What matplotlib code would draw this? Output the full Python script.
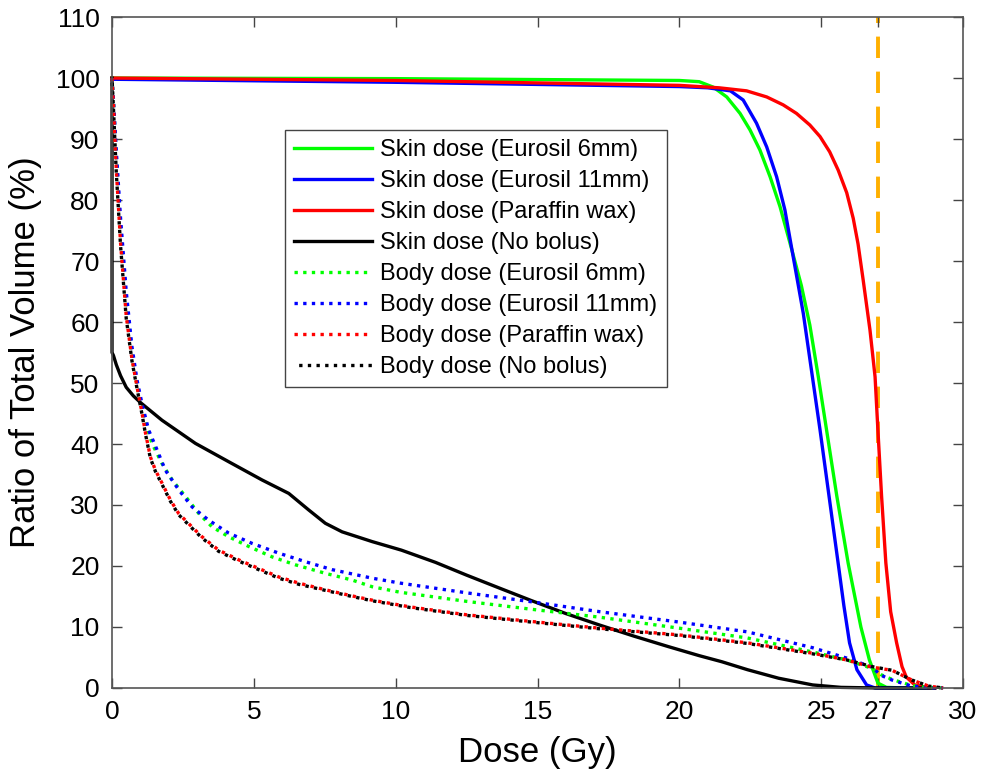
import matplotlib
matplotlib.use('Agg')
import matplotlib.pyplot as plt

plt.rcParams['font.family'] = ['Liberation Sans', 'DejaVu Sans']

# skin dose curves (solid)
skin_x_eu6 = [0, 10, 20, 20.7, 21.2, 21.67, 22.14, 22.49, 22.84, 23.2, 23.55, 23.95, 24.3, 24.6, 24.9,
              25.19, 25.55, 25.95, 26.4, 26.7, 27.0, 27.3, 28, 29]
skin_y_eu6 = [100, 99.9, 99.6, 99.4, 98.5, 96.9, 94.2, 91.5, 88.2, 83.8, 78.9, 72.1, 66, 59.5, 51,
              42.3, 31.5, 20.5, 10, 4.6, 0.8, 0.1, 0, 0]

skin_x_eu11 = [0, 10, 20, 21.0, 21.8, 22.25, 22.72, 23.08, 23.43, 23.72, 23.96, 24.37, 24.96, 25.6,
               25.8, 26.0, 26.26, 26.6, 26.9, 28, 29]
skin_y_eu11 = [99.8, 99.3, 98.6, 98.4, 97.9, 96.4, 92.6, 88.7, 83.8, 78.4, 72.1, 61.4, 42.3, 20.4,
               13.5, 7.4, 3, 0.5, 0, 0, 0]

skin_x_wax = [0, 10, 20, 21.4, 22.37, 23.08, 23.66, 24.13, 24.6, 24.96, 25.3, 25.6, 25.9, 26.13, 26.3,
              26.48, 26.72, 26.9, 27.0, 27.13, 27.28, 27.45, 27.66, 27.85, 28.0, 28.3, 28.7, 29]
skin_y_wax = [100, 99.6, 98.8, 98.4, 97.9, 96.9, 95.6, 94.2, 92.3, 90.4, 87.9, 84.9, 81.2, 77.0, 72.8,
              66.9, 58.7, 51, 42.3, 31.4, 20.5, 12.5, 7.4, 3.5, 1.8, 0.5, 0.1, 0]

skin_x_none = [0, 0, 0.05, 0.15, 0.3, 0.5, 0.75, 1.0, 1.76, 2.94, 4.11, 5.29, 6.23, 6.93, 7.52, 8.11,
               9.17, 10.2, 11.4, 12.5, 13.7, 14.8, 16.0, 17.2, 18.4, 19.6, 20.7, 21.5, 22.4, 23.5,
               24.7, 25.7, 27, 29]
skin_y_none = [100, 55, 54.5, 53, 51.2, 49.3, 47.9, 46.8, 43.9, 40.1, 37.1, 34.1, 31.9, 29.2, 27.0, 25.6,
               24.0, 22.6, 20.6, 18.5, 16.3, 14.3, 12.2, 10.3, 8.5, 6.8, 5.3, 4.3, 3.0, 1.6,
               0.5, 0.1, 0, 0]

# body dose curves (dotted)
body_x_eu6 = [0, 0.05, 0.15, 0.3, 0.5, 0.75, 0.95, 1.15, 1.41, 1.76, 2.12, 2.59, 3.06, 3.53, 4.11, 4.82,
              5.64, 6.46, 7.52, 8.46, 9.17, 10.15, 12.5, 14.8, 17.2, 20.0, 22.4, 24.7, 25.9, 26.8,
              27.1, 27.5, 28.2, 28.8, 29.3]
body_y_eu6 = [100, 96, 87, 75, 62.5, 53, 48, 44, 40.1, 36.8, 34.1, 31.4, 28.6, 26.4, 24.8, 23.2,
              21.5, 20.2, 18.8, 17.7, 16.6, 15.7, 14.2, 12.9, 11.6, 9.8, 8.2, 5.9, 4.6, 3.2,
              2.2, 1.4, 0.4, 0.1, 0]

body_x_eu11 = [0, 0.05, 0.15, 0.3, 0.5, 0.7, 0.88, 1.06, 1.29, 1.59, 1.88, 2.35, 2.82, 3.41, 4.11, 4.94,
               5.88, 6.82, 7.76, 9.17, 10.15, 12.5, 14.84, 17.2, 20.0, 22.4, 24.7, 25.9, 26.8, 27.1,
               27.5, 28.2, 28.8, 29.3]
body_y_eu11 = [100, 96.5, 88, 77, 65, 56, 50.5, 46.5, 42.3, 39.0, 35.7, 32.5, 29.7, 27.5, 25.4, 23.7,
               22.1, 20.7, 19.4, 18.0, 17.2, 15.6, 14.1, 12.5, 10.8, 9.2, 6.6, 4.9, 3.4, 2.1,
               1.3, 0.3, 0.05, 0]

body_x_wax = [0, 0.05, 0.15, 0.3, 0.5, 0.7, 0.88, 1.06, 1.18, 1.35, 1.53, 1.76, 2.06, 2.35, 2.82, 3.17,
              3.76, 4.47, 5.17, 5.88, 6.58, 7.52, 8.46, 9.17, 10.5, 12.5, 14.8, 17.2, 20.0, 22.4,
              24.7, 25.9, 26.8, 27.5, 28.2, 28.8, 29.3]
body_y_wax = [100, 95.5, 85, 73, 61, 54, 49.4, 45.0, 41.8, 37.9, 35.7, 33.6, 30.8, 28.6, 26.4, 24.8,
              22.6, 21.0, 19.6, 18.2, 17.2, 16.1, 15.1, 14.4, 13.3, 12.0, 10.9, 9.8, 8.7, 7.4,
              5.7, 4.6, 3.4, 2.9, 1.3, 0.3, 0]

body_x_none = body_x_wax
body_y_none = [100, 95, 84.5, 72.5, 60.6, 53.7, 49.1, 44.8, 41.6, 37.7, 35.5, 33.4, 30.6, 28.4, 26.2, 24.6,
               22.4, 20.8, 19.4, 18.0, 17.0, 16.0, 15.0, 14.3, 13.2, 11.9, 10.8, 9.7, 8.6, 7.3,
               5.6, 4.6, 3.5, 2.9, 1.3, 0.3, 0]

x_ticks = [0, 5, 10, 15, 20, 25, 27, 30]
y_ticks = list(range(0, 111, 10))
ref_dose = 27

fig = plt.figure(figsize=(9.88, 7.78), dpi=100)
ax = fig.add_axes([0.1134, 0.1157, 0.8613, 0.8624])

lw = 2.4
ax.axvline(ref_dose, color='#FFB000', lw=2.8, dashes=(5.5, 3.5), zorder=1)

ax.plot(skin_x_eu6, skin_y_eu6, color='#00FF00', lw=lw, clip_on=False, label='Skin dose (Eurosil 6mm)')
ax.plot(skin_x_eu11, skin_y_eu11, color='#0000FF', lw=lw, clip_on=False, label='Skin dose (Eurosil 11mm)')
ax.plot(skin_x_wax, skin_y_wax, color='#FF0000', lw=lw, clip_on=False, label='Skin dose (Paraffin wax)')
ax.plot(skin_x_none, skin_y_none, color='black', lw=lw, clip_on=False, label='Skin dose (No bolus)')

dot = (1, 1.6)
ax.plot(body_x_eu6, body_y_eu6, color='#00FF00', lw=lw, linestyle=(0, dot), clip_on=False,
        label='Body dose (Eurosil 6mm)')
ax.plot(body_x_eu11, body_y_eu11, color='#0000FF', lw=lw, linestyle=(0, dot), clip_on=False,
        label='Body dose (Eurosil 11mm)')
ax.plot(body_x_wax, body_y_wax, color='#FF0000', lw=lw, linestyle=(0, dot), clip_on=False,
        label='Body dose (Paraffin wax)')
ax.plot(body_x_none, body_y_none, color='black', lw=lw, linestyle=(1.2, dot), clip_on=False,
        label='Body dose (No bolus)')

ax.set_xlim(0, 30)
ax.set_ylim(0, 110)
ax.set_xticks(x_ticks)
ax.set_yticks(y_ticks)
ax.tick_params(direction='in', top=True, right=True, length=7, width=1,
               labelsize=19, pad=9, color='#444444')
for s in ax.spines.values():
    s.set_color('#555555')
    s.set_linewidth(1.2)

ax.set_xlabel('Dose (Gy)', fontsize=25, labelpad=8)
ax.set_ylabel('Ratio of Total Volume (%)', fontsize=25, labelpad=10)

leg = ax.legend(loc='upper left', bbox_to_anchor=(0.203, 0.832), borderaxespad=0,
                fontsize=17, handlelength=3.3, handletextpad=0.35, labelspacing=0.38,
                frameon=True, fancybox=False, edgecolor='#444444', framealpha=1,
                borderpad=0.4)
leg.get_frame().set_linewidth(1.0)
leg.set_zorder(5)

fig.savefig('out.png', dpi=100)
